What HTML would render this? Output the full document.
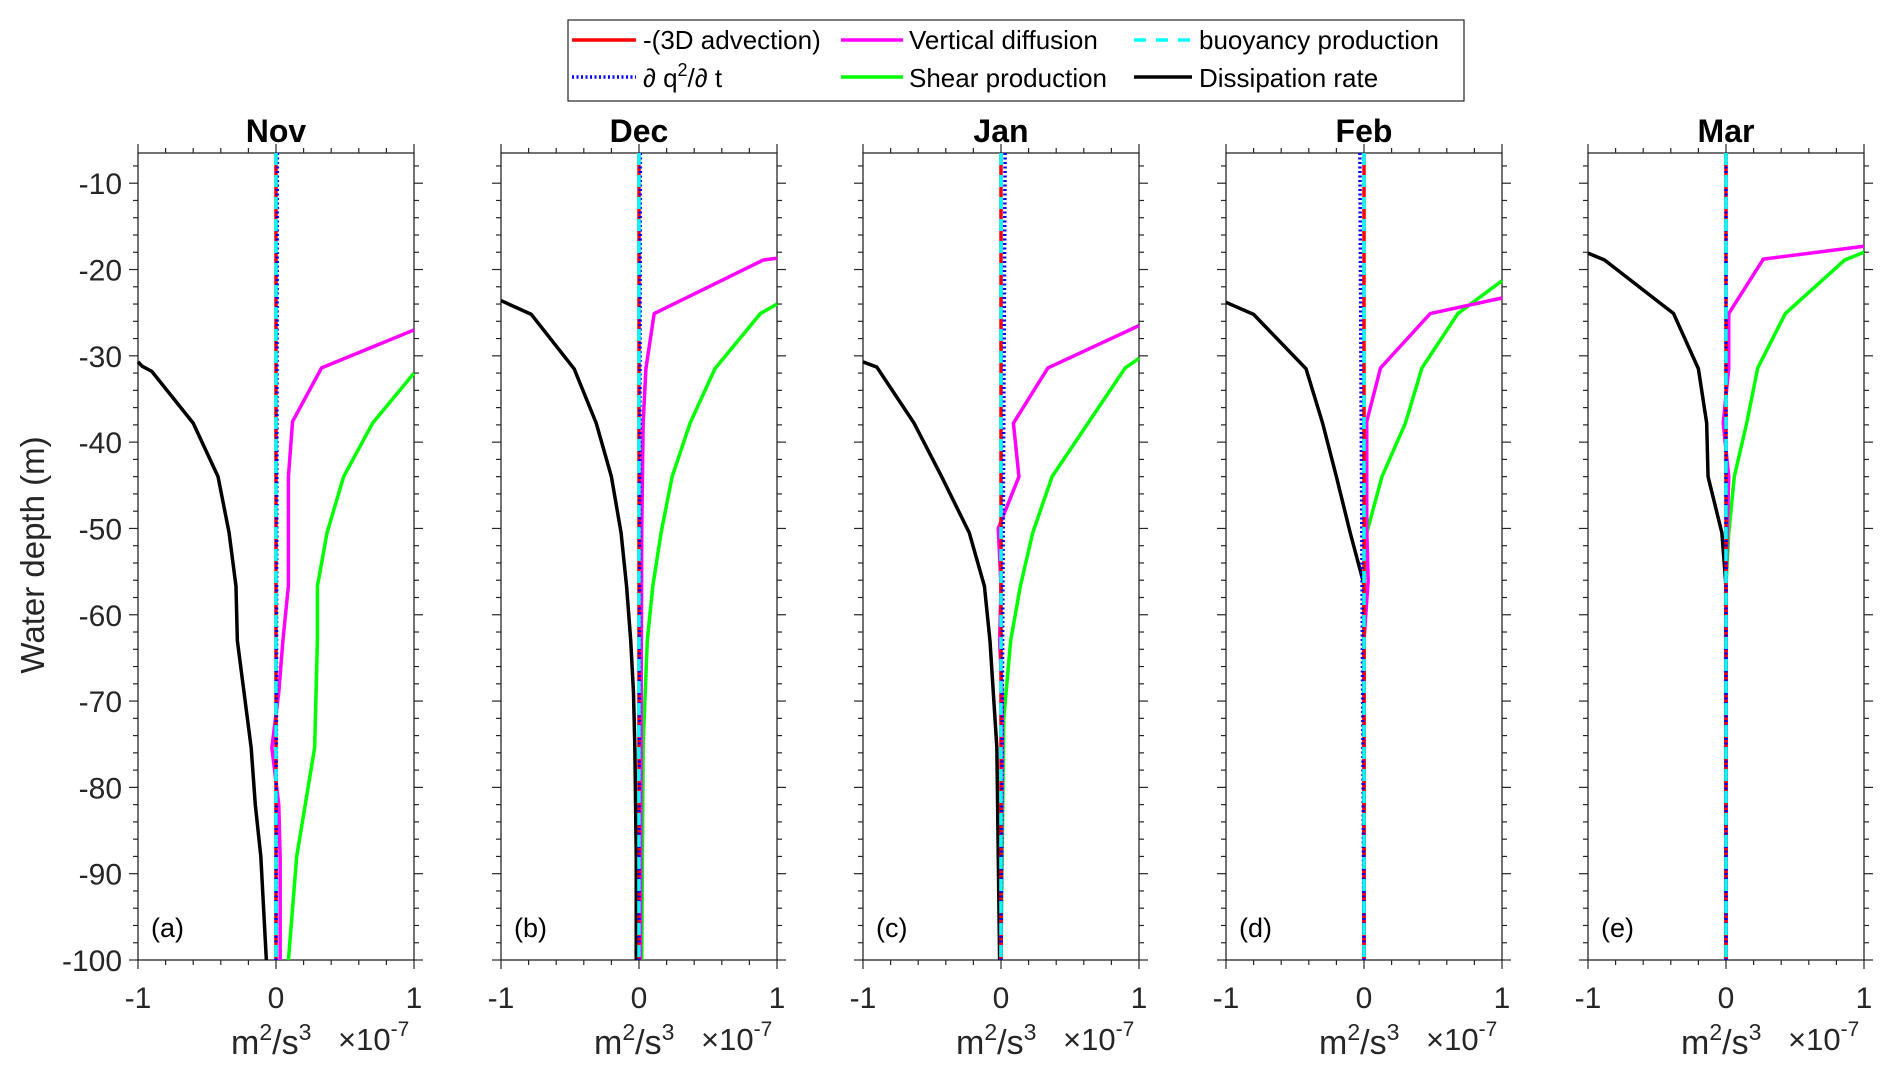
<!DOCTYPE html>
<html><head><meta charset="utf-8"><style>
html,body{margin:0;padding:0;background:#fff;}
svg{display:block;font-family:"Liberation Sans",sans-serif;}
</style></head><body>
<svg id="chart" width="1892" height="1078" viewBox="0 0 1892 1078" xmlns="http://www.w3.org/2000/svg">
<g id="legend">
<rect x="568" y="20" width="896" height="81" fill="#fff" stroke="#262626" stroke-width="1.2"/>
<g><line x1="572" y1="40" x2="636" y2="40" stroke="#ff0000" stroke-width="3.5"/><text x="643" y="49" font-size="26">-(3D advection)</text></g>
<g><line x1="572" y1="77" x2="636" y2="77" stroke="#0000ff" stroke-width="3.5" stroke-dasharray="2,2.5"/><text x="643" y="87" font-size="26">∂ q<tspan dy="-11" font-size="18">2</tspan><tspan dy="11">/∂ t</tspan></text></g>
<g><line x1="841" y1="40" x2="903" y2="40" stroke="#ff00ff" stroke-width="3.5"/><text x="909" y="49" font-size="26">Vertical diffusion</text></g>
<g><line x1="841" y1="77" x2="903" y2="77" stroke="#00ff00" stroke-width="3.5"/><text x="909" y="87" font-size="26">Shear production</text></g>
<g><line x1="1134" y1="40" x2="1192" y2="40" stroke="#00ffff" stroke-width="3.5" stroke-dasharray="12,10"/><text x="1199" y="49" font-size="26">buoyancy production</text></g>
<g><line x1="1134" y1="77" x2="1192" y2="77" stroke="#000" stroke-width="3.5"/><text x="1199" y="87" font-size="26">Dissipation rate</text></g>
</g>
<text transform="translate(44,555) rotate(-90)" text-anchor="middle" font-size="33" fill="#262626">Water depth (m)</text>
</svg>
<script>
const months = ["Nov","Dec","Jan","Feb","Mar"];
const letters = ["(a)","(b)","(c)","(d)","(e)"];
const xTicks = [-1,0,1];
const yTicks = [-10,-20,-30,-40,-50,-60,-70,-80,-90,-100];
const dissX = [
 [-1,-0.97,-0.9,-0.6,-0.42,-0.34,-0.29,-0.28,-0.18,-0.15,-0.11,-0.07],
 [-1,-0.78,-0.47,-0.31,-0.2,-0.13,-0.09,-0.06,-0.04,-0.03,-0.02,-0.02],
 [-1,-0.9,-0.63,-0.43,-0.23,-0.12,-0.08,-0.03,-0.01],
 [-1,-0.8,-0.42,-0.3,-0.2,-0.1,0,0],
 [-1,-0.88,-0.38,-0.2,-0.14,-0.13,-0.03,0,0]];
const dissD = [
 [-30.7,-31.2,-31.8,-37.8,-44,-50.5,-56.7,-63,-75.4,-82,-88,-100],
 [-23.6,-25.2,-31.5,-37.8,-44,-50.5,-56.7,-63,-69,-75.4,-88,-100],
 [-30.7,-31.3,-37.8,-44,-50.5,-56.7,-63,-75.4,-100],
 [-23.8,-25.2,-31.5,-37.8,-44,-50.5,-56.5,-100],
 [-18.1,-18.9,-25.1,-31.5,-37.8,-44,-50.5,-56.7,-100]];
const diffX = [
 [1,0.33,0.12,0.09,0.09,0.05,0.02,-0.03,0.02,0.03,0.03],
 [1,0.9,0.11,0.05,0.03,0.02,0.01],
 [1,0.34,0.09,0.13,-0.02,0,-0.01,0.01,0],
 [1,0.48,0.12,0.02,0.02,0.03,0,0],
 [1,0.27,0.02,0.02,-0.02,0.02,0.01,0,0]];
const diffD = [
 [-27,-31.4,-37.6,-44,-56.6,-63,-69,-75.4,-82,-88,-100],
 [-18.7,-18.9,-25.1,-31.5,-37.8,-50,-100],
 [-26.5,-31.4,-37.8,-44,-50,-56.7,-63,-70,-100],
 [-23.3,-25.1,-31.4,-37.6,-50,-56,-63,-100],
 [-17.3,-18.8,-25.1,-31.4,-37.8,-44,-50,-56,-100]];
const shearX = [
 [1,0.7,0.49,0.37,0.3,0.3,0.28,0.15,0.09],
 [1,0.88,0.55,0.37,0.24,0.16,0.1,0.06,0.03,0.02],
 [1,0.9,0.37,0.23,0.14,0.07,0.02,0],
 [1,0.68,0.42,0.3,0.13,0.02,0,0],
 [1,0.86,0.43,0.23,0.15,0.06,0.02,0,0]];
const shearD = [
 [-32,-37.8,-44,-50.5,-56.7,-63,-75.4,-88,-100],
 [-24,-25.1,-31.5,-37.8,-44,-50.5,-56.7,-63,-75,-100],
 [-30.3,-31.4,-44,-50.5,-56.7,-63,-72,-100],
 [-21.3,-25.1,-31.4,-37.8,-44,-50.5,-56.7,-100],
 [-18,-18.9,-25.1,-31.4,-37.8,-44,-50.5,-56.7,-100]];
const advX = [[0,0],[0,0],[0,0],[0,0],[0,0]];
const tendX = [[0.01,0],[0.01,0],[0.03,0],[-0.03,0],[0,0]];
const buoyX = [[0,0],[0,0],[0,0],[0,0],[0,0]];
const endD = [-6.5,-100];

const NS="http://www.w3.org/2000/svg";
const svg=document.getElementById('chart');
const lefts=[138,501,863,1226,1588], W=276, TOP=153, BOT=960;
const yMin=-100,yMax=-6.5;
function mk(tag,attrs,parent){const e=document.createElementNS(NS,tag);for(const k in attrs)e.setAttribute(k,attrs[k]);parent.appendChild(e);return e;}
const AX="#262626";
months.forEach((m,i)=>{
 const L=lefts[i];
 const xs=v=>L+(v+1)/2*W;
 const ys=d=>TOP+(yMax-d)/(yMax-yMin)*(BOT-TOP);
 const g=mk('g',{},svg);
 
 
 for(let v=-1;v<=1.0001;v+=0.2){
  const maj=Math.abs(v-Math.round(v))<1e-6;const len=maj?9:5;
  mk('line',{x1:xs(v),x2:xs(v),y1:BOT,y2:BOT+len,stroke:AX,'stroke-width':1.2},g);
  mk('line',{x1:xs(v),x2:xs(v),y1:TOP,y2:TOP-len,stroke:AX,'stroke-width':1.2},g);
 }
 for(let d=-100;d<=-8;d+=2){
  const maj=d%10===0;const len=maj?9:5;
  mk('line',{x1:L,x2:L-len,y1:ys(d),y2:ys(d),stroke:AX,'stroke-width':1.2},g);
  mk('line',{x1:L+W,x2:L+W+len,y1:ys(d),y2:ys(d),stroke:AX,'stroke-width':1.2},g);
 }
 mk('rect',{x:L,y:TOP,width:W,height:BOT-TOP,fill:'none',stroke:AX,'stroke-width':1.3},g);
 xTicks.forEach(v=>{const t=mk('text',{x:xs(v),y:BOT+48,'text-anchor':'middle','font-size':30,fill:AX},g);t.textContent=v;
  
  });
 if(i===0) yTicks.forEach(d=>{const t=mk('text',{x:L-16,y:ys(d)+11,'text-anchor':'end','font-size':30,fill:AX},g);t.textContent=d;
  
  });
 const ti=mk('text',{x:L+W/2,y:142,'text-anchor':'middle','font-size':32,'font-weight':'bold'},g);ti.textContent=m;
 
 
 const xl=mk('text',{x:L+93,y:1054,'font-size':34,fill:AX},g);
 xl.innerHTML='m<tspan dy="-14" font-size="23">2</tspan><tspan dy="14">/s</tspan><tspan dy="-14" font-size="23">3</tspan>';
 
 
 const ex=mk('text',{x:L+200,y:1050,'font-size':31,fill:AX},g);
 ex.innerHTML='×10<tspan dy="-14" font-size="21">-7</tspan>';
 
 
 const lt=mk('text',{x:L+13,y:937,'font-size':27},g);lt.textContent=letters[i];
 
 
 const line=(X,D,stroke,dash,name)=>{
  const p=X.map((v,k)=>xs(v)+','+ys(D[k])).join(' ');
  const e=mk('polyline',{points:p,fill:'none',stroke:stroke,'stroke-width':3.5,'stroke-linejoin':'round'},g);
  if(dash)e.setAttribute('stroke-dasharray',dash);
  
  
 };
 line(dissX[i],dissD[i],'#000',null,'dissipation-line');
 line(shearX[i],shearD[i],'#00ff00',null,'shear-production-line');
 line(diffX[i],diffD[i],'#ff00ff',null,'vertical-diffusion-line');
 line(advX[i],endD,'#ff0000',null,'advection-line');
 line(tendX[i],endD,'#0000ff','2,2.5','tendency-line');
 line(buoyX[i],endD,'#00ffff','12,10','buoyancy-production-line');
});
</script>
</body></html>
